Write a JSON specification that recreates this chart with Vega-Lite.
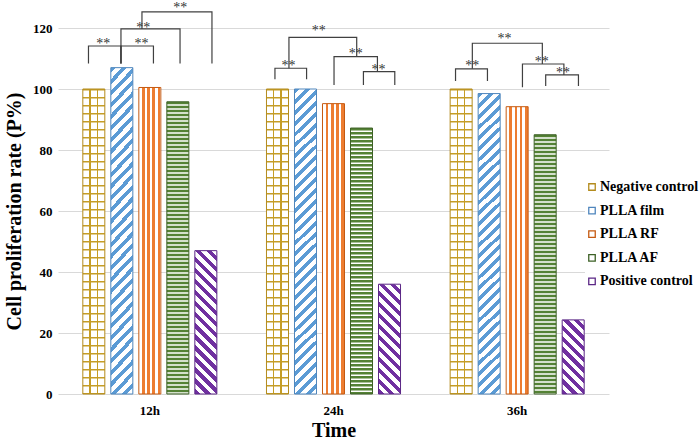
{
 "$schema": "https://vega.github.io/schema/vega-lite/v6.json",
 "width": 530,
 "height": 366,
 "autosize": {"type": "none"},
 "padding": {"left": 58, "top": 28, "right": 112, "bottom": 50},
 "background": "white",
 "config": {"view": {"stroke": null}, "font": "Liberation Serif"},
 "datasets": {
  "bars": [
   {"time": "12h", "series": "Negative control", "v": 100},
   {"time": "12h", "series": "PLLA film", "v": 107},
   {"time": "12h", "series": "PLLA RF", "v": 100.5},
   {"time": "12h", "series": "PLLA AF", "v": 95.8},
   {"time": "12h", "series": "Positive control", "v": 47},
   {"time": "24h", "series": "Negative control", "v": 100},
   {"time": "24h", "series": "PLLA film", "v": 100},
   {"time": "24h", "series": "PLLA RF", "v": 95.2},
   {"time": "24h", "series": "PLLA AF", "v": 87.2},
   {"time": "24h", "series": "Positive control", "v": 36},
   {"time": "36h", "series": "Negative control", "v": 100},
   {"time": "36h", "series": "PLLA film", "v": 98.5},
   {"time": "36h", "series": "PLLA RF", "v": 94.2},
   {"time": "36h", "series": "PLLA AF", "v": 85},
   {"time": "36h", "series": "Positive control", "v": 24.3}
  ],
  "brackets": [
   {"time": "12h", "b": "B1", "o": 0, "k": -0.19, "v": 108.4},
   {"time": "12h", "b": "B1", "o": 1, "k": -0.19, "v": 114.1},
   {"time": "12h", "b": "B1", "o": 2, "k": 0.97, "v": 114.1},
   {"time": "12h", "b": "B1", "o": 3, "k": 0.97, "v": 108.4},
   {"time": "12h", "b": "B2", "o": 0, "k": 0.97, "v": 108.4},
   {"time": "12h", "b": "B2", "o": 1, "k": 0.97, "v": 114.1},
   {"time": "12h", "b": "B2", "o": 2, "k": 2.13, "v": 114.1},
   {"time": "12h", "b": "B2", "o": 3, "k": 2.13, "v": 108.4},
   {"time": "12h", "b": "B3", "o": 0, "k": 0.97, "v": 108.4},
   {"time": "12h", "b": "B3", "o": 1, "k": 0.97, "v": 119.7},
   {"time": "12h", "b": "B3", "o": 2, "k": 3.08, "v": 119.7},
   {"time": "12h", "b": "B3", "o": 3, "k": 3.08, "v": 108.4},
   {"time": "12h", "b": "B4", "o": 0, "k": 1.72, "v": 119.7},
   {"time": "12h", "b": "B4", "o": 1, "k": 1.72, "v": 125.3},
   {"time": "12h", "b": "B4", "o": 2, "k": 4.22, "v": 125.3},
   {"time": "12h", "b": "B4", "o": 3, "k": 4.22, "v": 108.4},
   {"time": "24h", "b": "C1", "o": 0, "k": -0.09, "v": 103.2},
   {"time": "24h", "b": "C1", "o": 1, "k": -0.09, "v": 106.8},
   {"time": "24h", "b": "C1", "o": 2, "k": 1.04, "v": 106.8},
   {"time": "24h", "b": "C1", "o": 3, "k": 1.04, "v": 103.2},
   {"time": "24h", "b": "C2", "o": 0, "k": 2.02, "v": 101.3},
   {"time": "24h", "b": "C2", "o": 1, "k": 2.02, "v": 110.6},
   {"time": "24h", "b": "C2", "o": 2, "k": 3.57, "v": 110.6},
   {"time": "24h", "b": "C2", "o": 3, "k": 3.57, "v": 105.7},
   {"time": "24h", "b": "C3", "o": 0, "k": 3.07, "v": 101.3},
   {"time": "24h", "b": "C3", "o": 1, "k": 3.07, "v": 105.7},
   {"time": "24h", "b": "C3", "o": 2, "k": 4.19, "v": 105.7},
   {"time": "24h", "b": "C3", "o": 3, "k": 4.19, "v": 101.3},
   {"time": "24h", "b": "C4", "o": 0, "k": 0.41, "v": 106.8},
   {"time": "24h", "b": "C4", "o": 1, "k": 0.41, "v": 116.9},
   {"time": "24h", "b": "C4", "o": 2, "k": 2.83, "v": 116.9},
   {"time": "24h", "b": "C4", "o": 3, "k": 2.83, "v": 110.6},
   {"time": "36h", "b": "E1", "o": 0, "k": -0.2, "v": 102.6},
   {"time": "36h", "b": "E1", "o": 1, "k": -0.2, "v": 106.6},
   {"time": "36h", "b": "E1", "o": 2, "k": 0.94, "v": 106.6},
   {"time": "36h", "b": "E1", "o": 3, "k": 0.94, "v": 102.6},
   {"time": "36h", "b": "E2", "o": 0, "k": 2.19, "v": 100.6},
   {"time": "36h", "b": "E2", "o": 1, "k": 2.19, "v": 108.2},
   {"time": "36h", "b": "E2", "o": 2, "k": 3.67, "v": 108.2},
   {"time": "36h", "b": "E2", "o": 3, "k": 3.67, "v": 104.6},
   {"time": "36h", "b": "E3", "o": 0, "k": 3.02, "v": 101.0},
   {"time": "36h", "b": "E3", "o": 1, "k": 3.02, "v": 104.6},
   {"time": "36h", "b": "E3", "o": 2, "k": 4.19, "v": 104.6},
   {"time": "36h", "b": "E3", "o": 3, "k": 4.19, "v": 101.0},
   {"time": "36h", "b": "E4", "o": 0, "k": 0.4, "v": 106.6},
   {"time": "36h", "b": "E4", "o": 1, "k": 0.4, "v": 115.0},
   {"time": "36h", "b": "E4", "o": 2, "k": 2.9, "v": 115.0},
   {"time": "36h", "b": "E4", "o": 3, "k": 2.9, "v": 108.2}
  ],
  "stars": [
   {"time": "12h", "k": 0.34, "v": 115.5, "t": "**"},
   {"time": "12h", "k": 1.70, "v": 115.5, "t": "**"},
   {"time": "12h", "k": 1.77, "v": 120.8, "t": "**"},
   {"time": "12h", "k": 3.09, "v": 127.2, "t": "**"},
   {"time": "24h", "k": 0.39, "v": 108.2, "t": "**"},
   {"time": "24h", "k": 2.8, "v": 112.0, "t": "**"},
   {"time": "24h", "k": 3.61, "v": 106.8, "t": "**"},
   {"time": "24h", "k": 1.475, "v": 119.7, "t": "**"},
   {"time": "36h", "k": 0.4, "v": 108.1, "t": "**"},
   {"time": "36h", "k": 2.88, "v": 109.5, "t": "**"},
   {"time": "36h", "k": 3.64, "v": 105.9, "t": "**"},
   {"time": "36h", "k": 1.55, "v": 116.95, "t": "**"}
  ]
 },
 "encoding": {
  "x": {"field": "time", "type": "nominal", "title": "Time",
   "scale": {"domain": ["12h", "24h", "36h"], "range": [0, 551], "paddingInner": 0, "paddingOuter": 0},
   "axis": {"labelAngle": 0, "domain": false, "ticks": false, "tickSize": 0, "labelPadding": 10, "labelFont": "Liberation Serif", "labelFontWeight": "bold", "labelFontSize": 13, "labelColor": "black", "titleFont": "Liberation Serif", "titleFontWeight": "bold", "titleFontSize": 20, "titleColor": "black", "titlePadding": 3}},
  "y": {"field": "v", "type": "quantitative", "title": "Cell proliferation rate (P%)",
   "scale": {"domain": [0, 120], "nice": false},
   "axis": {"values": [0, 20, 40, 60, 80, 100, 120], "grid": true, "gridColor": "#d9d9d9", "gridWidth": 1, "domain": false, "ticks": false, "tickSize": 0, "labelPadding": 6, "labelFont": "Liberation Serif", "labelFontWeight": "bold", "labelFontSize": 13, "labelColor": "black", "titleFont": "Liberation Serif", "titleFontWeight": "bold", "titleFontSize": 20, "titleColor": "black", "titlePadding": 8}}
 },
 "layer": [
  {
   "data": {"name": "bars"},
   "encoding": {
    "xOffset": {"field": "series", "type": "nominal",
     "scale": {"domain": ["Negative control", "PLLA film", "PLLA RF", "PLLA AF", "Positive control"], "paddingInner": 0.2143, "paddingOuter": 0.886}}
   },
   "layer": [
    {
     "transform": [{"filter": "datum.series === 'Negative control'"}],
     "mark": {"type": "bar", "strokeWidth": 0, "fill": {"gradient": "linear", "x1": 0, "y1": 0, "x2": 1, "y2": 0, "stops": [
      {"offset": 0, "color": "#ffffff"}, {"offset": 0.295, "color": "#ffffff"}, {"offset": 0.295, "color": "#c59d26"}, {"offset": 0.36, "color": "#c59d26"}, {"offset": 0.36, "color": "#ffffff"},
      {"offset": 0.63, "color": "#ffffff"}, {"offset": 0.63, "color": "#c59d26"}, {"offset": 0.695, "color": "#c59d26"}, {"offset": 0.695, "color": "#ffffff"}, {"offset": 1, "color": "#ffffff"}]}}
    },
    {
     "transform": [{"filter": "datum.series === 'Negative control'"}],
     "mark": {"type": "rule", "strokeWidth": 22, "strokeDash": [1.5, 6.5], "color": "#c59d26", "strokeCap": "butt"},
     "encoding": {"y2": {"datum": 0}}
    },
    {
     "transform": [{"filter": "datum.series === 'PLLA film'"}],
     "mark": {"type": "bar", "strokeWidth": 0, "fill": {"gradient": "linear", "x1": 0, "y1": 0, "x2": 0.0756, "y2": 1.0656, "stops": [
      {"offset": 0, "color": "#5b9bd5"}, {"offset": 0.015, "color": "#5b9bd5"}, {"offset": 0.015, "color": "#ffffff"}, {"offset": 0.0333, "color": "#ffffff"},
      {"offset": 0.0333, "color": "#5b9bd5"}, {"offset": 0.0483, "color": "#5b9bd5"}, {"offset": 0.0483, "color": "#ffffff"}, {"offset": 0.0667, "color": "#ffffff"},
      {"offset": 0.0667, "color": "#5b9bd5"}, {"offset": 0.0817, "color": "#5b9bd5"}, {"offset": 0.0817, "color": "#ffffff"}, {"offset": 0.1, "color": "#ffffff"},
      {"offset": 0.1, "color": "#5b9bd5"}, {"offset": 0.115, "color": "#5b9bd5"}, {"offset": 0.115, "color": "#ffffff"}, {"offset": 0.1333, "color": "#ffffff"},
      {"offset": 0.1333, "color": "#5b9bd5"}, {"offset": 0.1483, "color": "#5b9bd5"}, {"offset": 0.1483, "color": "#ffffff"}, {"offset": 0.1667, "color": "#ffffff"},
      {"offset": 0.1667, "color": "#5b9bd5"}, {"offset": 0.1817, "color": "#5b9bd5"}, {"offset": 0.1817, "color": "#ffffff"}, {"offset": 0.2, "color": "#ffffff"},
      {"offset": 0.2, "color": "#5b9bd5"}, {"offset": 0.215, "color": "#5b9bd5"}, {"offset": 0.215, "color": "#ffffff"}, {"offset": 0.2333, "color": "#ffffff"},
      {"offset": 0.2333, "color": "#5b9bd5"}, {"offset": 0.2483, "color": "#5b9bd5"}, {"offset": 0.2483, "color": "#ffffff"}, {"offset": 0.2667, "color": "#ffffff"},
      {"offset": 0.2667, "color": "#5b9bd5"}, {"offset": 0.2817, "color": "#5b9bd5"}, {"offset": 0.2817, "color": "#ffffff"}, {"offset": 0.3, "color": "#ffffff"},
      {"offset": 0.3, "color": "#5b9bd5"}, {"offset": 0.315, "color": "#5b9bd5"}, {"offset": 0.315, "color": "#ffffff"}, {"offset": 0.3333, "color": "#ffffff"},
      {"offset": 0.3333, "color": "#5b9bd5"}, {"offset": 0.3483, "color": "#5b9bd5"}, {"offset": 0.3483, "color": "#ffffff"}, {"offset": 0.3667, "color": "#ffffff"},
      {"offset": 0.3667, "color": "#5b9bd5"}, {"offset": 0.3817, "color": "#5b9bd5"}, {"offset": 0.3817, "color": "#ffffff"}, {"offset": 0.4, "color": "#ffffff"},
      {"offset": 0.4, "color": "#5b9bd5"}, {"offset": 0.415, "color": "#5b9bd5"}, {"offset": 0.415, "color": "#ffffff"}, {"offset": 0.4333, "color": "#ffffff"},
      {"offset": 0.4333, "color": "#5b9bd5"}, {"offset": 0.4483, "color": "#5b9bd5"}, {"offset": 0.4483, "color": "#ffffff"}, {"offset": 0.4667, "color": "#ffffff"},
      {"offset": 0.4667, "color": "#5b9bd5"}, {"offset": 0.4817, "color": "#5b9bd5"}, {"offset": 0.4817, "color": "#ffffff"}, {"offset": 0.5, "color": "#ffffff"},
      {"offset": 0.5, "color": "#5b9bd5"}, {"offset": 0.515, "color": "#5b9bd5"}, {"offset": 0.515, "color": "#ffffff"}, {"offset": 0.5333, "color": "#ffffff"},
      {"offset": 0.5333, "color": "#5b9bd5"}, {"offset": 0.5483, "color": "#5b9bd5"}, {"offset": 0.5483, "color": "#ffffff"}, {"offset": 0.5667, "color": "#ffffff"},
      {"offset": 0.5667, "color": "#5b9bd5"}, {"offset": 0.5817, "color": "#5b9bd5"}, {"offset": 0.5817, "color": "#ffffff"}, {"offset": 0.6, "color": "#ffffff"},
      {"offset": 0.6, "color": "#5b9bd5"}, {"offset": 0.615, "color": "#5b9bd5"}, {"offset": 0.615, "color": "#ffffff"}, {"offset": 0.6333, "color": "#ffffff"},
      {"offset": 0.6333, "color": "#5b9bd5"}, {"offset": 0.6483, "color": "#5b9bd5"}, {"offset": 0.6483, "color": "#ffffff"}, {"offset": 0.6667, "color": "#ffffff"},
      {"offset": 0.6667, "color": "#5b9bd5"}, {"offset": 0.6817, "color": "#5b9bd5"}, {"offset": 0.6817, "color": "#ffffff"}, {"offset": 0.7, "color": "#ffffff"},
      {"offset": 0.7, "color": "#5b9bd5"}, {"offset": 0.715, "color": "#5b9bd5"}, {"offset": 0.715, "color": "#ffffff"}, {"offset": 0.7333, "color": "#ffffff"},
      {"offset": 0.7333, "color": "#5b9bd5"}, {"offset": 0.7483, "color": "#5b9bd5"}, {"offset": 0.7483, "color": "#ffffff"}, {"offset": 0.7667, "color": "#ffffff"},
      {"offset": 0.7667, "color": "#5b9bd5"}, {"offset": 0.7817, "color": "#5b9bd5"}, {"offset": 0.7817, "color": "#ffffff"}, {"offset": 0.8, "color": "#ffffff"},
      {"offset": 0.8, "color": "#5b9bd5"}, {"offset": 0.815, "color": "#5b9bd5"}, {"offset": 0.815, "color": "#ffffff"}, {"offset": 0.8333, "color": "#ffffff"},
      {"offset": 0.8333, "color": "#5b9bd5"}, {"offset": 0.8483, "color": "#5b9bd5"}, {"offset": 0.8483, "color": "#ffffff"}, {"offset": 0.8667, "color": "#ffffff"},
      {"offset": 0.8667, "color": "#5b9bd5"}, {"offset": 0.8817, "color": "#5b9bd5"}, {"offset": 0.8817, "color": "#ffffff"}, {"offset": 0.9, "color": "#ffffff"},
      {"offset": 0.9, "color": "#5b9bd5"}, {"offset": 0.915, "color": "#5b9bd5"}, {"offset": 0.915, "color": "#ffffff"}, {"offset": 0.9333, "color": "#ffffff"},
      {"offset": 0.9333, "color": "#5b9bd5"}, {"offset": 0.9483, "color": "#5b9bd5"}, {"offset": 0.9483, "color": "#ffffff"}, {"offset": 0.9667, "color": "#ffffff"},
      {"offset": 0.9667, "color": "#5b9bd5"}, {"offset": 0.9817, "color": "#5b9bd5"}, {"offset": 0.9817, "color": "#ffffff"}, {"offset": 1, "color": "#ffffff"}]}}
    },
    {
     "transform": [{"filter": "datum.series === 'PLLA RF'"}],
     "mark": {"type": "bar", "strokeWidth": 0, "fill": {"gradient": "linear", "x1": 0, "y1": 0, "x2": 1, "y2": 0, "stops": [
      {"offset": 0, "color": "#ffffff"}, {"offset": 0.15, "color": "#ffffff"}, {"offset": 0.15, "color": "#ed7d31"}, {"offset": 0.27, "color": "#ed7d31"}, {"offset": 0.27, "color": "#ffffff"},
      {"offset": 0.385, "color": "#ffffff"}, {"offset": 0.385, "color": "#ed7d31"}, {"offset": 0.505, "color": "#ed7d31"}, {"offset": 0.505, "color": "#ffffff"},
      {"offset": 0.62, "color": "#ffffff"}, {"offset": 0.62, "color": "#ed7d31"}, {"offset": 0.74, "color": "#ed7d31"}, {"offset": 0.74, "color": "#ffffff"},
      {"offset": 0.855, "color": "#ffffff"}, {"offset": 0.855, "color": "#ed7d31"}, {"offset": 0.975, "color": "#ed7d31"}, {"offset": 0.975, "color": "#ffffff"}, {"offset": 1, "color": "#ffffff"}]}}
    },
    {
     "transform": [{"filter": "datum.series === 'PLLA AF'"}],
     "mark": {"type": "bar", "strokeWidth": 0, "fill": "#ffffff"}
    },
    {
     "transform": [{"filter": "datum.series === 'PLLA AF'"}],
     "mark": {"type": "rule", "strokeWidth": 22, "strokeDash": [2.4, 1.6], "color": "#548235", "strokeCap": "butt"},
     "encoding": {"y2": {"datum": 0}}
    },
    {
     "transform": [{"filter": "datum.series === 'Positive control' && datum.time === '12h'"}],
     "mark": {"type": "bar", "strokeWidth": 0, "fill": {"gradient": "linear", "x1": 0, "y1": 1, "x2": 0.1729, "y2": -0.1269, "stops": [
      {"offset": 0, "color": "#7030a0"}, {"offset": 0.0333, "color": "#7030a0"}, {"offset": 0.0333, "color": "#ffffff"}, {"offset": 0.0667, "color": "#ffffff"},
      {"offset": 0.0667, "color": "#7030a0"}, {"offset": 0.1, "color": "#7030a0"}, {"offset": 0.1, "color": "#ffffff"}, {"offset": 0.1333, "color": "#ffffff"},
      {"offset": 0.1333, "color": "#7030a0"}, {"offset": 0.1667, "color": "#7030a0"}, {"offset": 0.1667, "color": "#ffffff"}, {"offset": 0.2, "color": "#ffffff"},
      {"offset": 0.2, "color": "#7030a0"}, {"offset": 0.2333, "color": "#7030a0"}, {"offset": 0.2333, "color": "#ffffff"}, {"offset": 0.2667, "color": "#ffffff"},
      {"offset": 0.2667, "color": "#7030a0"}, {"offset": 0.3, "color": "#7030a0"}, {"offset": 0.3, "color": "#ffffff"}, {"offset": 0.3333, "color": "#ffffff"},
      {"offset": 0.3333, "color": "#7030a0"}, {"offset": 0.3667, "color": "#7030a0"}, {"offset": 0.3667, "color": "#ffffff"}, {"offset": 0.4, "color": "#ffffff"},
      {"offset": 0.4, "color": "#7030a0"}, {"offset": 0.4333, "color": "#7030a0"}, {"offset": 0.4333, "color": "#ffffff"}, {"offset": 0.4667, "color": "#ffffff"},
      {"offset": 0.4667, "color": "#7030a0"}, {"offset": 0.5, "color": "#7030a0"}, {"offset": 0.5, "color": "#ffffff"}, {"offset": 0.5333, "color": "#ffffff"},
      {"offset": 0.5333, "color": "#7030a0"}, {"offset": 0.5667, "color": "#7030a0"}, {"offset": 0.5667, "color": "#ffffff"}, {"offset": 0.6, "color": "#ffffff"},
      {"offset": 0.6, "color": "#7030a0"}, {"offset": 0.6333, "color": "#7030a0"}, {"offset": 0.6333, "color": "#ffffff"}, {"offset": 0.6667, "color": "#ffffff"},
      {"offset": 0.6667, "color": "#7030a0"}, {"offset": 0.7, "color": "#7030a0"}, {"offset": 0.7, "color": "#ffffff"}, {"offset": 0.7333, "color": "#ffffff"},
      {"offset": 0.7333, "color": "#7030a0"}, {"offset": 0.7667, "color": "#7030a0"}, {"offset": 0.7667, "color": "#ffffff"}, {"offset": 0.8, "color": "#ffffff"},
      {"offset": 0.8, "color": "#7030a0"}, {"offset": 0.8333, "color": "#7030a0"}, {"offset": 0.8333, "color": "#ffffff"}, {"offset": 0.8667, "color": "#ffffff"},
      {"offset": 0.8667, "color": "#7030a0"}, {"offset": 0.9, "color": "#7030a0"}, {"offset": 0.9, "color": "#ffffff"}, {"offset": 0.9333, "color": "#ffffff"},
      {"offset": 0.9333, "color": "#7030a0"}, {"offset": 0.9667, "color": "#7030a0"}, {"offset": 0.9667, "color": "#ffffff"}, {"offset": 1, "color": "#ffffff"}]}}
    },
    {
     "transform": [{"filter": "datum.series === 'Positive control' && datum.time === '24h'"}],
     "mark": {"type": "bar", "strokeWidth": 0, "fill": {"gradient": "linear", "x1": 0, "y1": 1, "x2": 0.2312, "y2": -0.154, "stops": [
      {"offset": 0, "color": "#7030a0"}, {"offset": 0.0417, "color": "#7030a0"}, {"offset": 0.0417, "color": "#ffffff"}, {"offset": 0.0833, "color": "#ffffff"},
      {"offset": 0.0833, "color": "#7030a0"}, {"offset": 0.125, "color": "#7030a0"}, {"offset": 0.125, "color": "#ffffff"}, {"offset": 0.1667, "color": "#ffffff"},
      {"offset": 0.1667, "color": "#7030a0"}, {"offset": 0.2083, "color": "#7030a0"}, {"offset": 0.2083, "color": "#ffffff"}, {"offset": 0.25, "color": "#ffffff"},
      {"offset": 0.25, "color": "#7030a0"}, {"offset": 0.2917, "color": "#7030a0"}, {"offset": 0.2917, "color": "#ffffff"}, {"offset": 0.3333, "color": "#ffffff"},
      {"offset": 0.3333, "color": "#7030a0"}, {"offset": 0.375, "color": "#7030a0"}, {"offset": 0.375, "color": "#ffffff"}, {"offset": 0.4167, "color": "#ffffff"},
      {"offset": 0.4167, "color": "#7030a0"}, {"offset": 0.4583, "color": "#7030a0"}, {"offset": 0.4583, "color": "#ffffff"}, {"offset": 0.5, "color": "#ffffff"},
      {"offset": 0.5, "color": "#7030a0"}, {"offset": 0.5417, "color": "#7030a0"}, {"offset": 0.5417, "color": "#ffffff"}, {"offset": 0.5833, "color": "#ffffff"},
      {"offset": 0.5833, "color": "#7030a0"}, {"offset": 0.625, "color": "#7030a0"}, {"offset": 0.625, "color": "#ffffff"}, {"offset": 0.6667, "color": "#ffffff"},
      {"offset": 0.6667, "color": "#7030a0"}, {"offset": 0.7083, "color": "#7030a0"}, {"offset": 0.7083, "color": "#ffffff"}, {"offset": 0.75, "color": "#ffffff"},
      {"offset": 0.75, "color": "#7030a0"}, {"offset": 0.7917, "color": "#7030a0"}, {"offset": 0.7917, "color": "#ffffff"}, {"offset": 0.8333, "color": "#ffffff"},
      {"offset": 0.8333, "color": "#7030a0"}, {"offset": 0.875, "color": "#7030a0"}, {"offset": 0.875, "color": "#ffffff"}, {"offset": 0.9167, "color": "#ffffff"},
      {"offset": 0.9167, "color": "#7030a0"}, {"offset": 0.9583, "color": "#7030a0"}, {"offset": 0.9583, "color": "#ffffff"}, {"offset": 1, "color": "#ffffff"}]}}
    },
    {
     "transform": [{"filter": "datum.series === 'Positive control' && datum.time === '36h'"}],
     "mark": {"type": "bar", "strokeWidth": 0, "fill": {"gradient": "linear", "x1": 0, "y1": 1, "x2": 0.3538, "y2": -0.1918, "stops": [
      {"offset": 0, "color": "#7030a0"}, {"offset": 0.0556, "color": "#7030a0"}, {"offset": 0.0556, "color": "#ffffff"}, {"offset": 0.1111, "color": "#ffffff"},
      {"offset": 0.1111, "color": "#7030a0"}, {"offset": 0.1667, "color": "#7030a0"}, {"offset": 0.1667, "color": "#ffffff"}, {"offset": 0.2222, "color": "#ffffff"},
      {"offset": 0.2222, "color": "#7030a0"}, {"offset": 0.2778, "color": "#7030a0"}, {"offset": 0.2778, "color": "#ffffff"}, {"offset": 0.3333, "color": "#ffffff"},
      {"offset": 0.3333, "color": "#7030a0"}, {"offset": 0.3889, "color": "#7030a0"}, {"offset": 0.3889, "color": "#ffffff"}, {"offset": 0.4444, "color": "#ffffff"},
      {"offset": 0.4444, "color": "#7030a0"}, {"offset": 0.5, "color": "#7030a0"}, {"offset": 0.5, "color": "#ffffff"}, {"offset": 0.5556, "color": "#ffffff"},
      {"offset": 0.5556, "color": "#7030a0"}, {"offset": 0.6111, "color": "#7030a0"}, {"offset": 0.6111, "color": "#ffffff"}, {"offset": 0.6667, "color": "#ffffff"},
      {"offset": 0.6667, "color": "#7030a0"}, {"offset": 0.7222, "color": "#7030a0"}, {"offset": 0.7222, "color": "#ffffff"}, {"offset": 0.7778, "color": "#ffffff"},
      {"offset": 0.7778, "color": "#7030a0"}, {"offset": 0.8333, "color": "#7030a0"}, {"offset": 0.8333, "color": "#ffffff"}, {"offset": 0.8889, "color": "#ffffff"},
      {"offset": 0.8889, "color": "#7030a0"}, {"offset": 0.9444, "color": "#7030a0"}, {"offset": 0.9444, "color": "#ffffff"}, {"offset": 1, "color": "#ffffff"}]}}
    },
    {
     "mark": {"type": "bar", "fill": "#ffffff", "fillOpacity": 0, "strokeWidth": 1},
     "encoding": {
      "stroke": {"field": "series", "type": "nominal",
       "scale": {"domain": ["Negative control", "PLLA film", "PLLA RF", "PLLA AF", "Positive control"], "range": ["#b38b1d", "#4f86bd", "#c55a11", "#3d6126", "#5b2786"]},
       "legend": {"title": null, "orient": "none", "legendX": 527, "legendY": 152, "symbolType": "square", "symbolSize": 42, "symbolStrokeWidth": 1.3, "symbolFillColor": "#ffffff", "labelFont": "Liberation Serif", "labelFontWeight": "bold", "labelFontSize": 14, "labelColor": "black", "labelOffset": 1, "labelLimit": 200, "rowPadding": 9.6, "fillColor": "white", "padding": 0}
      }
     }
    }
   ]
  },
  {
   "layer": [
    {
     "data": {"name": "brackets"},
     "mark": {"type": "line", "color": "#404040", "strokeWidth": 1.2, "strokeCap": "butt", "strokeJoin": "miter"},
     "encoding": {
      "xOffset": {"field": "k", "type": "quantitative", "scale": {"domain": [0, 4], "range": [35.8, 147.8], "zero": false, "nice": false}},
      "detail": {"field": "b", "type": "nominal"},
      "order": {"field": "o", "type": "quantitative"}
     }
    },
    {
     "data": {"name": "stars"},
     "mark": {"type": "text", "font": "Liberation Serif", "fontSize": 14, "fill": "#333333", "baseline": "middle", "align": "center", "dy": 2},
     "encoding": {
      "xOffset": {"field": "k", "type": "quantitative", "scale": {"domain": [0, 4], "range": [35.8, 147.8], "zero": false, "nice": false}},
      "text": {"field": "t", "type": "nominal"}
     }
    }
   ]
  }
 ],
 "resolve": {"scale": {"xOffset": "independent"}}
}
